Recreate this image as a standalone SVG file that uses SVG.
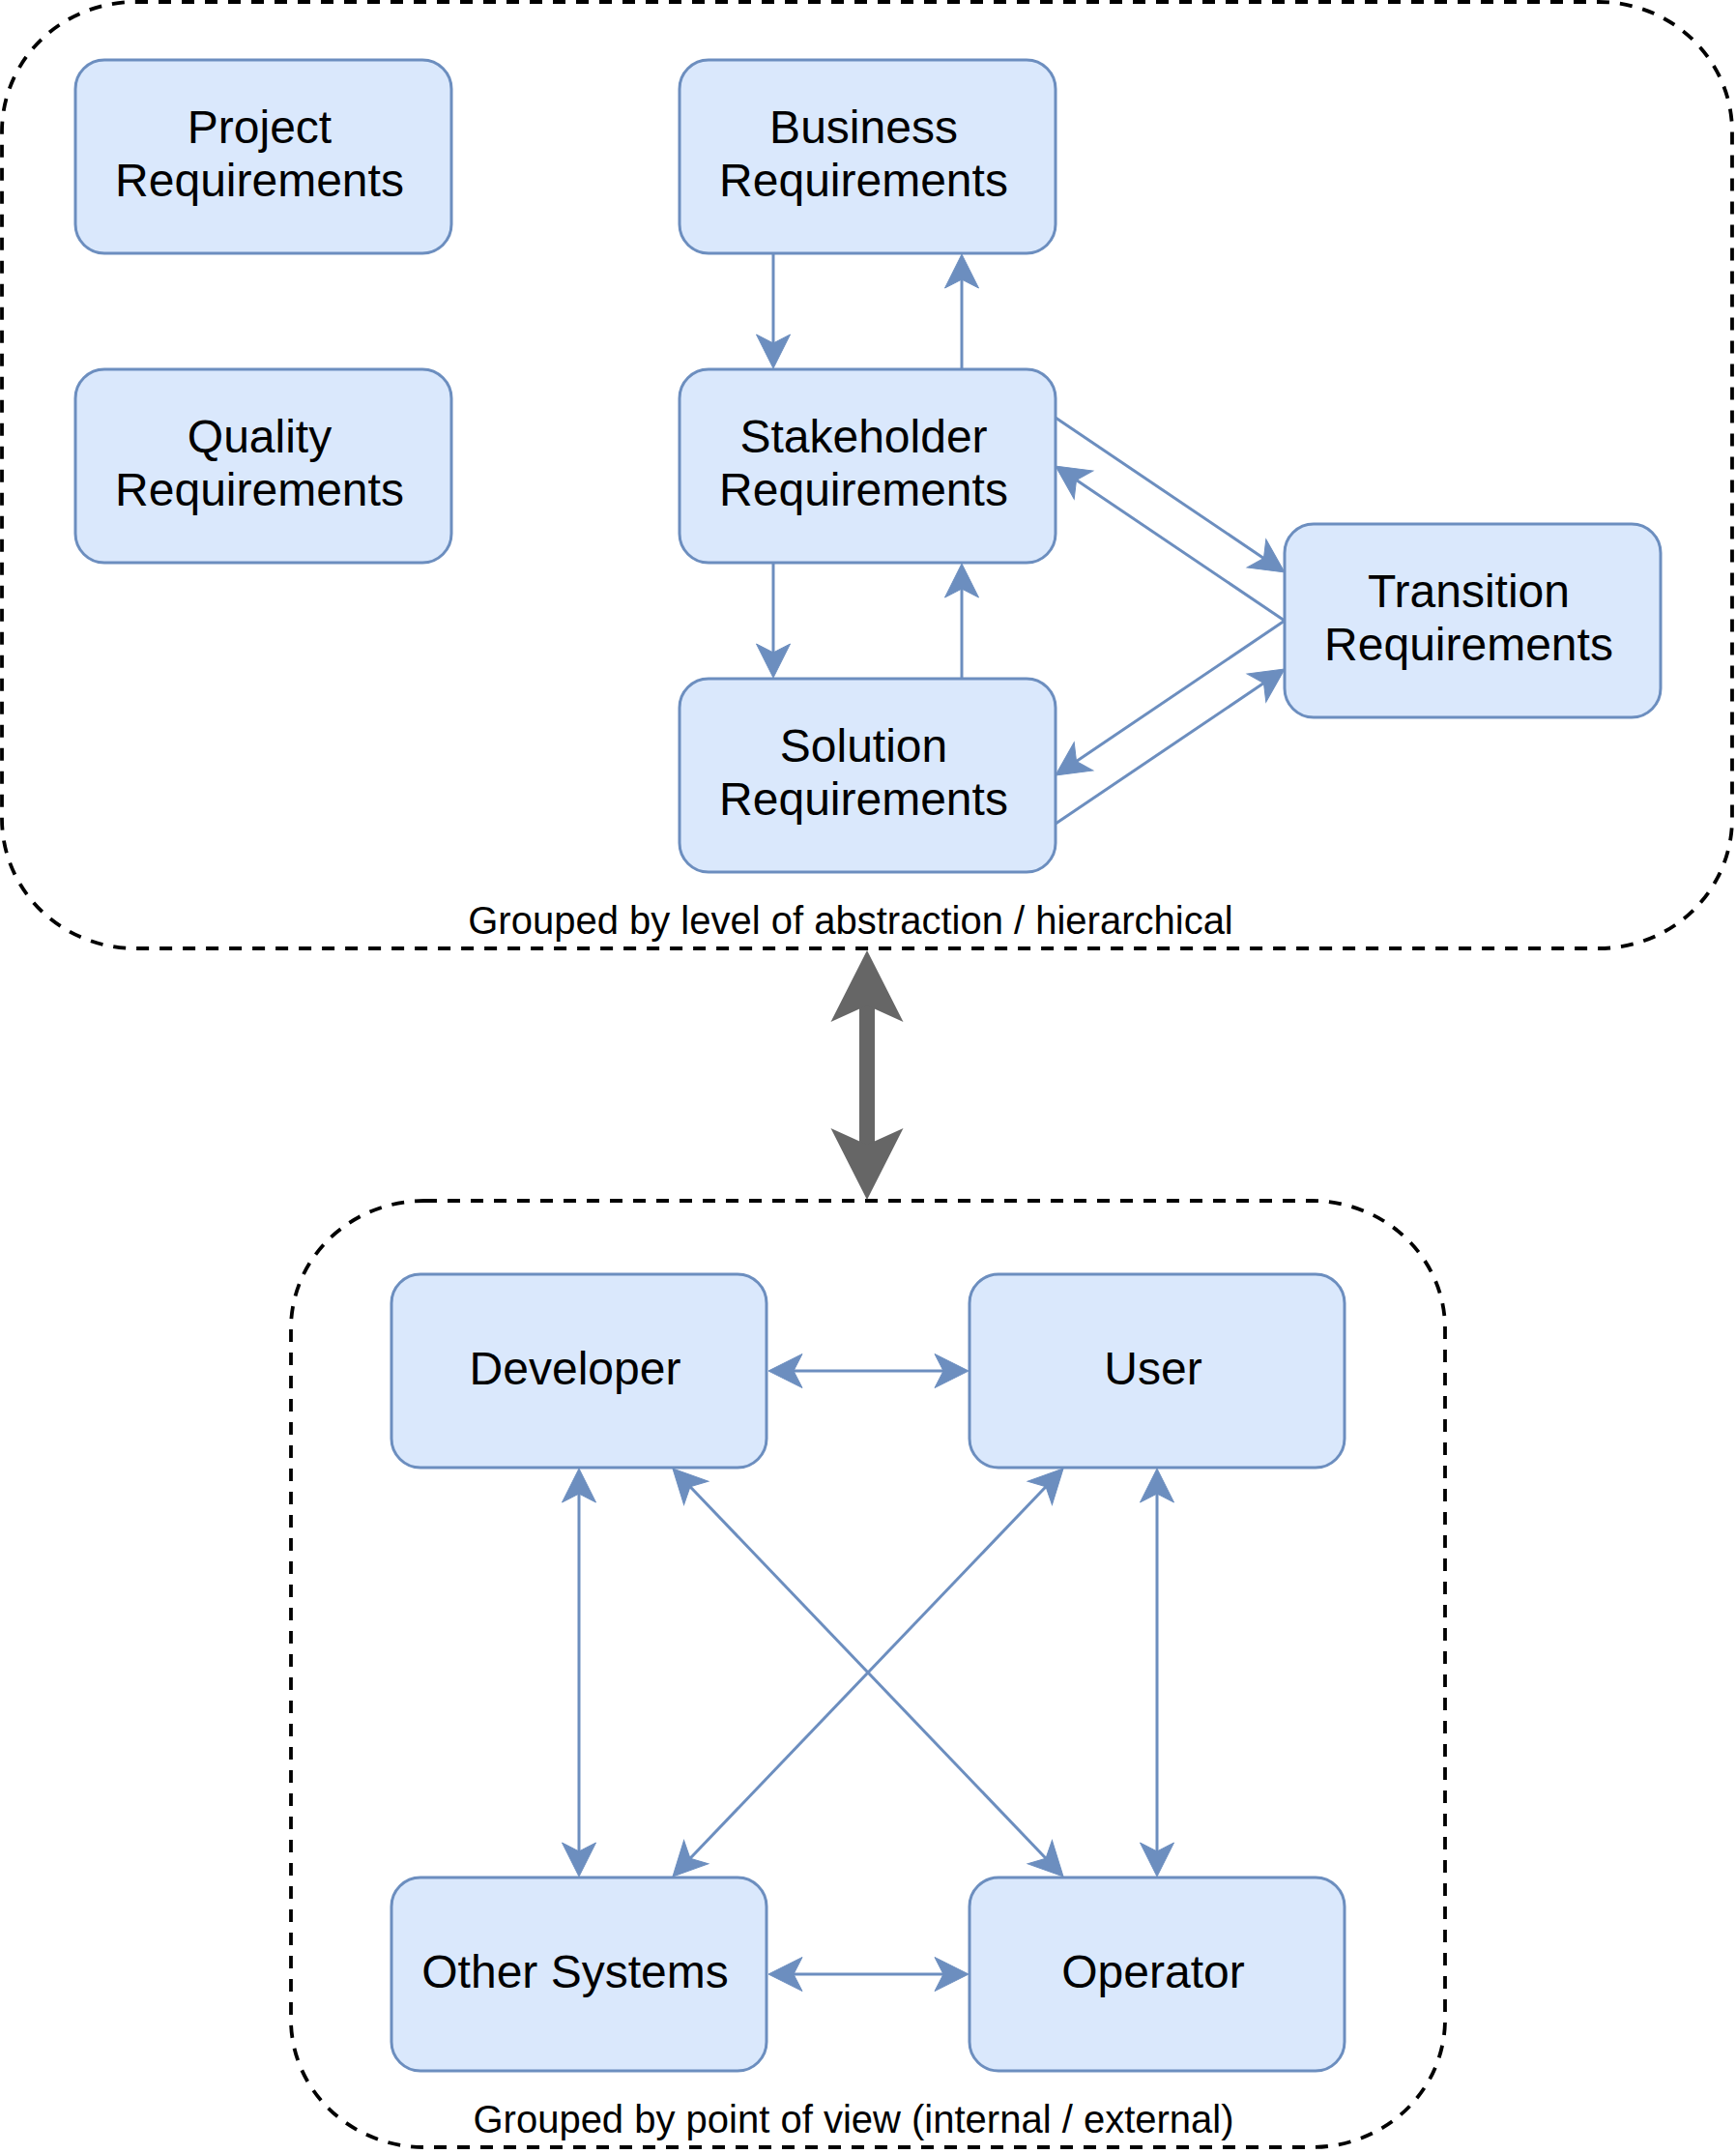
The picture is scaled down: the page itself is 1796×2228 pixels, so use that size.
<svg xmlns="http://www.w3.org/2000/svg" width="1796" height="2228" viewBox="0 0 1796 2228">
<style>
.box{fill:#dae8fc;stroke:#6c8ebf;stroke-width:3}
.grp{fill:none;stroke:#000000;stroke-width:3.8;stroke-dasharray:13 11}
.t{font-family:"Liberation Sans",Arial,sans-serif;font-size:48px;fill:#000000;text-anchor:middle}
.lbl{font-family:"Liberation Sans",Arial,sans-serif;font-size:40px;fill:#000000;text-anchor:middle}
.c{fill:none;stroke:#6c8ebf;stroke-width:3}
.big{fill:none;stroke:#666666;stroke-width:16}
</style>
<defs>
<marker id="arr" viewBox="-40 -20 42 40" markerWidth="42" markerHeight="40" refX="-26" refY="0" orient="auto-start-reverse" markerUnits="userSpaceOnUse" overflow="visible">
<path d="M0,0 L-35,-17.5 L-26,0 L-35,17.5 Z" fill="#6c8ebf" stroke="#6c8ebf" stroke-width="1"/>
</marker>
<marker id="bigarr" viewBox="-80 -40 82 80" markerWidth="82" markerHeight="80" refX="-57" refY="0" orient="auto-start-reverse" markerUnits="userSpaceOnUse" overflow="visible">
<path d="M0,0 L-74,-37.5 L-57,0 L-74,37.5 Z" fill="#666666"/>
</marker>
</defs>
<rect width="1796" height="2228" fill="#ffffff"/>

<g id="group-top">
<rect class="grp" x="2" y="2" width="1790" height="979" rx="138" ry="134"/>
<text class="lbl" x="880" y="966">Grouped by level of abstraction / hierarchical</text>
</g>
<g id="group-bottom">
<rect class="grp" x="301" y="1242" width="1194" height="979" rx="138" ry="132"/>
<text class="lbl" x="883" y="2206">Grouped by point of view (internal / external)</text>
</g>

<g id="node-project">
<rect class="box" x="78" y="62" width="389" height="200" rx="30" ry="30"/>
<text class="t" x="268.5" y="148">Project</text>
<text class="t" x="268.5" y="203">Requirements</text>
</g>
<g id="node-quality">
<rect class="box" x="78" y="382" width="389" height="200" rx="30" ry="30"/>
<text class="t" x="268.5" y="468">Quality</text>
<text class="t" x="268.5" y="523">Requirements</text>
</g>
<g id="node-business">
<rect class="box" x="703" y="62" width="389" height="200" rx="30" ry="30"/>
<text class="t" x="893.5" y="148">Business</text>
<text class="t" x="893.5" y="203">Requirements</text>
</g>
<g id="node-stakeholder">
<rect class="box" x="703" y="382" width="389" height="200" rx="30" ry="30"/>
<text class="t" x="893.5" y="468">Stakeholder</text>
<text class="t" x="893.5" y="523">Requirements</text>
</g>
<g id="node-solution">
<rect class="box" x="703" y="702" width="389" height="200" rx="30" ry="30"/>
<text class="t" x="893.5" y="788">Solution</text>
<text class="t" x="893.5" y="843">Requirements</text>
</g>
<g id="node-transition">
<rect class="box" x="1329" y="542" width="389" height="200" rx="30" ry="30"/>
<text class="t" x="1519.5" y="628">Transition</text>
<text class="t" x="1519.5" y="683">Requirements</text>
</g>

<g id="node-developer">
<rect class="box" x="405" y="1318" width="388" height="200" rx="30" ry="30"/>
<text class="t" x="595" y="1432">Developer</text>
</g>
<g id="node-user">
<rect class="box" x="1003" y="1318" width="388" height="200" rx="30" ry="30"/>
<text class="t" x="1193" y="1432">User</text>
</g>
<g id="node-other-systems">
<rect class="box" x="405" y="1942" width="388" height="200" rx="30" ry="30"/>
<text class="t" x="595" y="2056">Other Systems</text>
</g>
<g id="node-operator">
<rect class="box" x="1003" y="1942" width="388" height="200" rx="30" ry="30"/>
<text class="t" x="1193" y="2056">Operator</text>
</g>

<g id="connectors">
<path class="c" d="M800,262 L800,355" marker-end="url(#arr)"/>
<path class="c" d="M995,382 L995,289" marker-end="url(#arr)"/>
<path class="c" d="M800,582 L800,675" marker-end="url(#arr)"/>
<path class="c" d="M995,702 L995,609" marker-end="url(#arr)"/>
<path class="c" d="M1092,432 L1307.45,577.45" marker-end="url(#arr)"/>
<path class="c" d="M1329,642 L1113.55,496.55" marker-end="url(#arr)"/>
<path class="c" d="M1329,642 L1113.55,787.45" marker-end="url(#arr)"/>
<path class="c" d="M1092,852 L1307.45,706.55" marker-end="url(#arr)"/>

<path class="big" d="M897,1040 L897,1184" marker-start="url(#bigarr)" marker-end="url(#bigarr)"/>

<path class="c" d="M821,1418 L976,1418" marker-start="url(#arr)" marker-end="url(#arr)"/>
<path class="c" d="M821,2042 L976,2042" marker-start="url(#arr)" marker-end="url(#arr)"/>
<path class="c" d="M599,1545 L599,1915" marker-start="url(#arr)" marker-end="url(#arr)"/>
<path class="c" d="M1197,1545 L1197,1915" marker-start="url(#arr)" marker-end="url(#arr)"/>
<path class="c" d="M713.98,1537.78 L1082.02,1922.22" marker-start="url(#arr)" marker-end="url(#arr)"/>
<path class="c" d="M1082.02,1537.78 L713.98,1922.22" marker-start="url(#arr)" marker-end="url(#arr)"/>
</g>
</svg>
